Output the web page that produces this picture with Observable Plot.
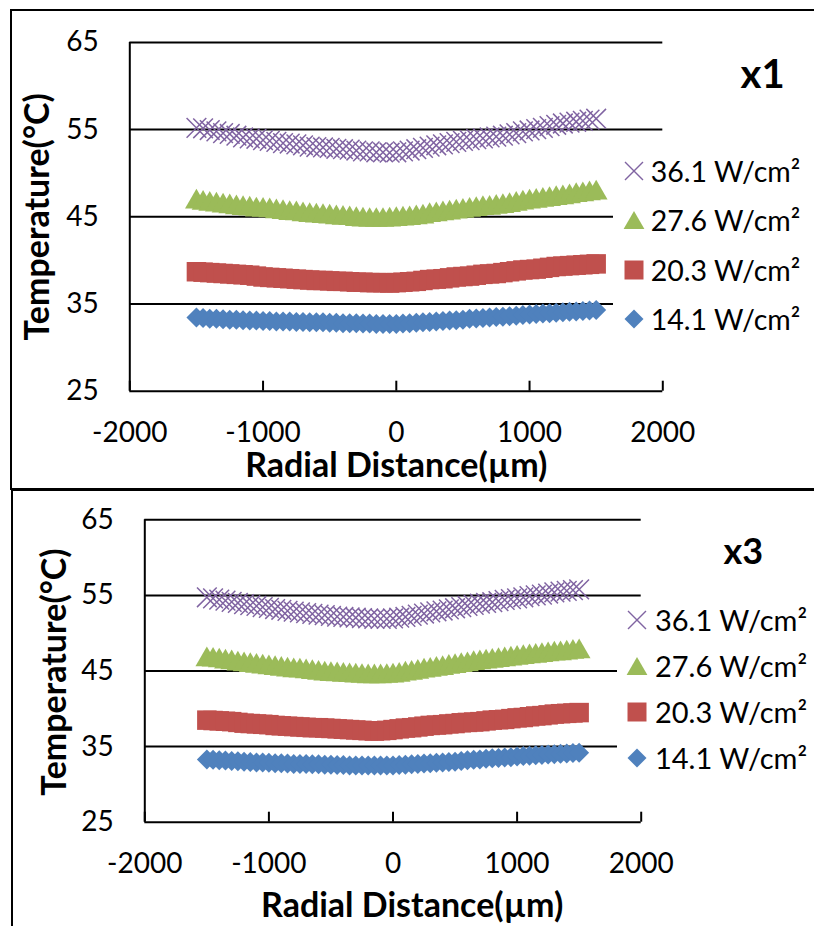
<!DOCTYPE html>
<html><head><meta charset="utf-8">
<script src="https://cdn.jsdelivr.net/npm/d3@7"></script>
<script src="https://cdn.jsdelivr.net/npm/@observablehq/plot@0.6"></script>
<style>
html,body{margin:0;padding:0;overflow:hidden;background:#fff;}
#page{position:relative;width:814px;height:926px;overflow:hidden;font-family:Lato,sans-serif;background:#fff;}
.frame{position:absolute;border:2px solid #000;box-sizing:border-box;pointer-events:none;}
.legend{position:absolute;background:#fff;}
.legend .lab{position:absolute;height:40px;line-height:40px;color:#000;white-space:nowrap;}
.legend svg{position:absolute;overflow:visible;}
</style></head><body><div id="page"></div>
<script>
// ---- data ----
const radial = [-1500,-1450,-1400,-1350,-1300,-1250,-1200,-1150,-1100,-1050,
  -1000,-950,-900,-850,-800,-750,-700,-650,-600,-550,
  -500,-450,-400,-350,-300,-250,-200,-150,-100,-50,
  0,50,100,150,200,250,300,350,400,450,
  500,550,600,650,700,750,800,850,900,950,
  1000,1050,1100,1150,1200,1250,1300,1350,1400,1450,
  1500];
const seriesLabels = ["36.1 W/cm²","27.6 W/cm²","20.3 W/cm²","14.1 W/cm²"];
const xTicks = [-2000,-1000,0,1000,2000];
const yTicks = [25,35,45,55,65];
const xTitle = "Radial Distance(µm)";
const yTitle = "Temperature(°C)";
const panelTags = ["x1","x3"];

// panel x1
const x1_361 = [55.2,55.15,54.95,54.8,54.6,54.5,54.3,54.1,54.0,53.95,
  53.8,53.7,53.6,53.45,53.4,53.3,53.2,53.05,53.0,52.95,
  52.9,52.8,52.75,52.7,52.6,52.5,52.5,52.4,52.4,52.35,
  52.4,52.5,52.6,52.75,52.9,53.05,53.2,53.3,53.45,53.6,
  53.7,53.8,53.9,54.0,54.1,54.2,54.3,54.45,54.6,54.8,
  54.9,55.05,55.2,55.4,55.55,55.7,55.8,55.9,56.0,56.15,
  56.25];
const x1_276 = [46.7,46.55,46.45,46.35,46.25,46.15,46.05,45.95,45.9,45.8,
  45.75,45.7,45.6,45.5,45.4,45.35,45.25,45.15,45.1,45.05,
  45.0,44.9,44.85,44.8,44.7,44.65,44.6,44.6,44.6,44.65,
  44.7,44.75,44.8,44.9,45.0,45.15,45.25,45.35,45.45,45.55,
  45.65,45.75,45.85,45.95,46.0,46.1,46.2,46.3,46.45,46.6,
  46.7,46.8,46.9,47.0,47.1,47.2,47.3,47.45,47.55,47.65,
  47.75];
const x1_203 = [38.7,38.65,38.6,38.55,38.5,38.45,38.4,38.35,38.3,38.2,
  38.1,38.05,38.0,37.95,37.9,37.85,37.8,37.75,37.7,37.7,
  37.65,37.6,37.6,37.55,37.5,37.5,37.45,37.45,37.45,37.4,
  37.45,37.5,37.55,37.6,37.7,37.8,37.85,37.9,38.0,38.1,
  38.15,38.2,38.3,38.4,38.45,38.5,38.6,38.7,38.8,38.9,
  38.95,39.0,39.1,39.2,39.3,39.35,39.4,39.45,39.5,39.55,
  39.6];
const x1_141 = [33.45,33.4,33.3,33.3,33.25,33.2,33.2,33.15,33.1,33.1,
  33.05,33.05,33.0,33.0,33.0,32.95,32.95,32.9,32.9,32.9,
  32.85,32.85,32.8,32.8,32.8,32.75,32.75,32.7,32.7,32.7,
  32.7,32.75,32.8,32.85,32.9,32.95,33.0,33.05,33.1,33.15,
  33.2,33.3,33.35,33.4,33.45,33.5,33.55,33.6,33.65,33.75,
  33.8,33.85,33.9,33.95,34.0,34.05,34.1,34.15,34.2,34.25,
  34.3];

// panel x3
const x3_361 = [54.75,54.6,54.45,54.3,54.15,54.0,53.85,53.7,53.6,53.45,
  53.35,53.2,53.1,52.95,52.85,52.75,52.65,52.55,52.45,52.4,
  52.3,52.2,52.15,52.1,52.05,52.0,51.95,51.9,51.9,51.9,
  51.95,52.05,52.15,52.3,52.45,52.6,52.75,52.9,53.0,53.15,
  53.3,53.45,53.6,53.75,53.9,54.0,54.1,54.25,54.4,54.5,
  54.6,54.75,54.9,55.0,55.1,55.25,55.4,55.5,55.6,55.7,
  55.8];
const x3_276 = [46.5,46.45,46.35,46.2,46.1,45.95,45.85,45.75,45.65,45.55,
  45.45,45.35,45.25,45.15,45.05,45.0,44.9,44.8,44.7,44.6,
  44.55,44.5,44.45,44.4,44.35,44.3,44.25,44.25,44.25,44.3,
  44.35,44.45,44.6,44.7,44.85,45.0,45.1,45.25,45.35,45.5,
  45.6,45.75,45.85,46.0,46.1,46.2,46.3,46.4,46.5,46.6,
  46.7,46.8,46.9,46.95,47.05,47.15,47.25,47.3,47.4,47.5,
  47.55];
const x3_203 = [38.5,38.45,38.4,38.35,38.3,38.2,38.1,38.05,38.0,37.95,
  37.9,37.8,37.75,37.7,37.65,37.6,37.55,37.5,37.5,37.45,
  37.4,37.35,37.3,37.25,37.2,37.15,37.1,37.05,37.1,37.15,
  37.25,37.35,37.45,37.5,37.6,37.7,37.8,37.85,37.9,38.0,
  38.05,38.15,38.2,38.25,38.3,38.4,38.5,38.55,38.6,38.7,
  38.8,38.85,38.95,39.05,39.1,39.2,39.3,39.35,39.4,39.45,
  39.5];
const x3_141 = [33.3,33.25,33.2,33.15,33.1,33.05,33.0,32.95,32.9,32.9,
  32.85,32.8,32.8,32.75,32.7,32.7,32.7,32.65,32.65,32.6,
  32.6,32.55,32.55,32.5,32.5,32.5,32.5,32.5,32.5,32.5,
  32.5,32.55,32.6,32.65,32.7,32.75,32.8,32.85,32.9,32.95,
  33.0,33.1,33.2,33.25,33.3,33.4,33.45,33.5,33.55,33.6,
  33.7,33.75,33.8,33.85,33.9,33.95,34.0,34.05,34.1,34.15,
  34.2];

// ---- styles ----
const colors = ["#8064A2","#9BBB59","#C0504D","#4F81BD"];
const plotSymbols = ["times","triangle","square","diamond2"];
const d3Symbols = [d3.symbolTimes, d3.symbolTriangle, d3.symbolSquare, d3.symbolDiamond2];
const symSize = [255, 225, 380, 255];      // chart markers
const legSize = [213, 187, 361, 230];      // legend markers

const panels = [
  {top:0, h:489, mL:129.3, mR:151.7, mT:41.9, mB:98.3, xtDx:0, xtDy:86, ytDx:-81.3, ytDy:0,
   tagDx:77.7, tagDy:45.1, tagSize:40,
   leg:{left:613, top:140, width:201, height:205, markX:633.8, textX:650.7, rows:[170.5,219.5,269.5,318.5], fs:28.5}},
  {top:489, h:437, mL:144.3, mR:173.3, mT:30.3, mB:104.3, xtDx:19.2, xtDy:94.5, ytDx:-78.8, ytDy:1,
   tagDx:82.3, tagDy:43.7, tagSize:36,
   leg:{left:616.7, top:597, width:198, height:185, markX:636.7, textX:655, rows:[620,665.5,712,757.5], fs:29}}
];
const panelValues = [[x1_361,x1_276,x1_203,x1_141],[x3_361,x3_276,x3_203,x3_141]];

const page = document.getElementById("page");

function drawPanel(cfg, values, tag) {
  const frameH = cfg.h - cfg.mT - cfg.mB;
  const marks = [
    Plot.ruleY(yTicks.slice(1), {y: d => d, stroke: "#000", strokeWidth: 2}),
    Plot.ruleY([yTicks[0]], {y: d => d, stroke: "#000", strokeWidth: 2}),
    Plot.ruleX([xTicks[0]], {x: d => d, stroke: "#000", strokeWidth: 2}),
    Plot.tickX(xTicks, {x: d => d, insetTop: frameH - 10, stroke: "#000", strokeWidth: 2})
  ];
  for (const i of [3,2,1,0]) {
    const rows = radial.map((r, j) => ({r, t: values[i][j]}));
    const rad = Math.sqrt(symSize[i] / Math.PI);
    const opts = {x: "r", y: "t", symbol: plotSymbols[i], r: rad};
    if (plotSymbols[i] === "times") { opts.stroke = colors[i]; opts.strokeWidth = 1.5; opts.fill = "none"; }
    else { opts.fill = colors[i]; opts.stroke = "none"; }
    marks.push(Plot.dot(rows, opts));
  }
  marks.push(
    Plot.axisX({ticks: xTicks, tickSize: 0, tickPadding: 31, tickFormat: d => String(d), fontSize: 28, label: null}),
    Plot.axisY({ticks: yTicks, tickSize: 0, tickPadding: 31, tickFormat: d => String(d), fontSize: 28, label: null}),
    Plot.text([xTitle], {text: d => d, frameAnchor: "bottom", textAnchor: "middle", lineAnchor: "bottom", dx: cfg.xtDx, dy: cfg.xtDy, fontSize: 34, fontWeight: "bold", fill: "#000"}),
    Plot.text([yTitle], {text: d => d, frameAnchor: "left", textAnchor: "middle", rotate: -90, lineAnchor: "bottom", dx: cfg.ytDx, dy: cfg.ytDy, fontSize: 34, fontWeight: "bold", fill: "#000"}),
    Plot.text([tag], {text: d => d, frameAnchor: "top-right", textAnchor: "start", lineAnchor: "bottom", dx: cfg.tagDx, dy: cfg.tagDy, fontSize: cfg.tagSize, fontWeight: "bold", fill: "#000"})
  );
  const svg = Plot.plot({
    width: 814, height: cfg.h,
    marginLeft: cfg.mL, marginRight: cfg.mR, marginTop: cfg.mT, marginBottom: cfg.mB,
    x: {type: "linear", domain: [xTicks[0], xTicks[xTicks.length-1]]},
    y: {type: "linear", domain: [yTicks[0], yTicks[yTicks.length-1]]},
    style: {fontFamily: "Lato, sans-serif", background: "transparent", overflow: "visible", color: "#000"},
    marks
  });
  svg.style.position = "absolute";
  svg.style.left = "0px";
  svg.style.top = cfg.top + "px";
  svg.style.maxWidth = "none";
  page.appendChild(svg);

  // legend
  const L = cfg.leg;
  const box = document.createElement("div");
  box.className = "legend";
  Object.assign(box.style, {left: L.left + "px", top: L.top + "px", width: L.width + "px", height: L.height + "px"});
  seriesLabels.forEach((lab, i) => {
    const cy = L.rows[i] - L.top;
    const s = d3.create("svg").attr("width", 24).attr("height", 24)
      .style("left", (L.markX - L.left - 12) + "px").style("top", (cy - 12) + "px");
    const dy = plotSymbols[i] === "triangle" ? 12 + Math.sqrt(legSize[i] / (Math.sqrt(3) * 3)) * 0.5 : 12;
    const p = s.append("path").attr("transform", `translate(12,${dy})`)
      .attr("d", d3.symbol(d3Symbols[i], legSize[i])());
    if (plotSymbols[i] === "times") p.attr("fill", "none").attr("stroke", colors[i]).attr("stroke-width", 1.4);
    else p.attr("fill", colors[i]);
    box.appendChild(s.node());
    const t = document.createElement("div");
    t.className = "lab";
    t.textContent = lab;
    Object.assign(t.style, {left: (L.textX - L.left) + "px", top: (cy - 20) + "px", fontSize: L.fs + "px"});
    box.appendChild(t);
  });
  page.appendChild(box);
}

panels.forEach((cfg, k) => drawPanel(cfg, panelValues[k], panelTags[k]));

// panel frames
const f1 = document.createElement("div");
f1.className = "frame";
Object.assign(f1.style, {left: "10px", top: "9px", width: "1000px", height: "481px"});
page.appendChild(f1);
const f2 = document.createElement("div");
f2.className = "frame";
Object.assign(f2.style, {left: "11px", top: "489px", width: "1000px", height: "1000px"});
page.appendChild(f2);
</script>
</body></html>
